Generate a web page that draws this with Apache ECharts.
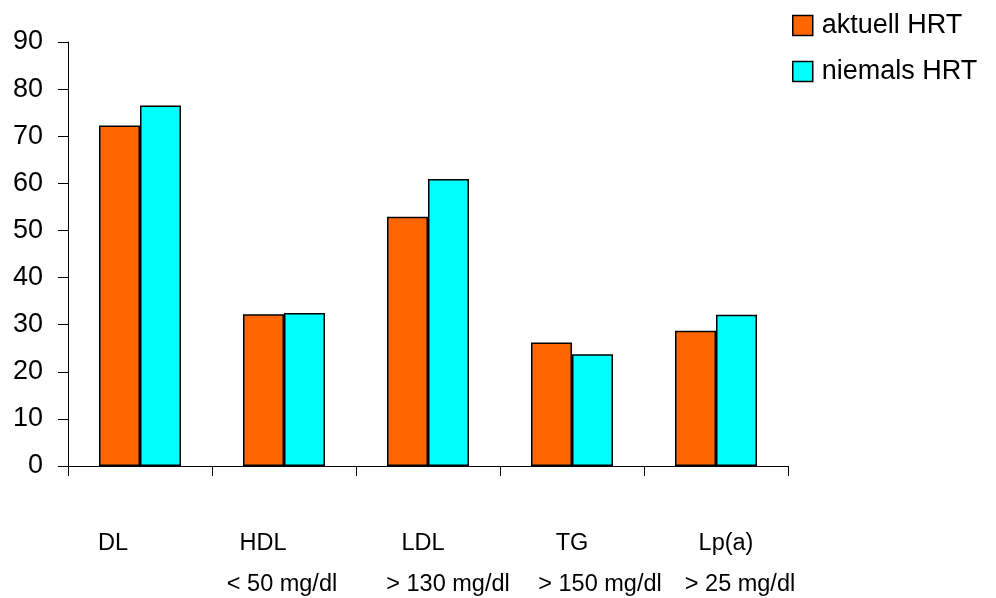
<!DOCTYPE html>
<html>
<head>
<meta charset="utf-8">
<script src="https://cdn.jsdelivr.net/npm/echarts@6/dist/echarts.min.js"></script>
<style>
html,body{margin:0;padding:0;background:#fff;}
#chart{width:996px;height:598px;}
</style>
</head>
<body>
<div id="chart"></div>
<script>
// ---- data ----
var categories = ['DL', 'HDL', 'LDL', 'TG', 'Lp(a)'];
var subLabels = ['', '< 50 mg/dl', '> 130 mg/dl', '> 150 mg/dl', '> 25 mg/dl'];
var seriesNames = ['aktuell HRT', 'niemals HRT'];
var aktuell = [72.3, 32.2, 52.9, 26.2, 28.7];
var niemals = [76.5, 32.5, 60.9, 23.7, 32.1];
var yTicks = [0, 10, 20, 30, 40, 50, 60, 70, 80, 90];

// ---- style (label horizontal offsets, px) ----
var topShift = [-27, -21, -5, 0, 10];
var subShift = [0, -2, 20, 28, 24];
var font = "'Liberation Sans', Arial, sans-serif";

function padFor(d) {
  return d >= 0 ? [0, 0, 0, 2 * d] : [0, -2 * d, 0, 0];
}
var rich = {};
for (var i = 0; i < categories.length; i++) {
  rich['t' + i] = {fontSize: 23.5, fontFamily: font, color: '#000', lineHeight: 41, padding: padFor(topShift[i])};
  rich['b' + i] = {fontSize: 23.5, fontFamily: font, color: '#000', lineHeight: 41, padding: padFor(subShift[i])};
}

var chart = echarts.init(document.getElementById('chart'), null, {renderer: 'canvas'});
chart.setOption({
  animation: false,
  backgroundColor: '#fff',
  textStyle: {fontFamily: font},
  legend: {
    orient: 'vertical',
    left: 787,
    top: 7,
    itemWidth: 20,
    itemHeight: 20,
    itemGap: 19,
    icon: 'rect',
    itemStyle: {borderColor: '#000', borderWidth: 1.5},
    textStyle: {fontSize: 27, fontFamily: font, color: '#000', padding: [0, 0, 0, 4]},
    data: seriesNames
  },
  grid: {left: 68, right: 208, top: 42, bottom: 132, containLabel: false},
  xAxis: {
    type: 'category',
    data: categories,
    axisLine: {show: true, lineStyle: {color: '#000', width: 1}},
    axisTick: {show: true, length: 10, lineStyle: {color: '#000'}},
    axisLabel: {
      margin: 57,
      interval: 0,
      formatter: function (v, idx) {
        var s = '{t' + idx + '|' + v + '}';
        if (subLabels[idx]) s += '\n{b' + idx + '|' + subLabels[idx] + '}';
        return s;
      },
      rich: rich
    },
    splitLine: {show: false}
  },
  yAxis: {
    type: 'value',
    min: yTicks[0],
    max: yTicks[yTicks.length - 1],
    interval: yTicks[1] - yTicks[0],
    axisLine: {show: true, lineStyle: {color: '#000', width: 1}},
    axisTick: {show: true, length: 10, lineStyle: {color: '#000'}},
    axisLabel: {margin: 25, fontSize: 27, fontFamily: font, color: '#000'},
    splitLine: {show: false}
  },
  series: [
    {
      name: seriesNames[0],
      type: 'bar',
      data: aktuell,
      barWidth: 41,
      barGap: '0%',
      itemStyle: {color: '#FF6600', borderColor: '#000', borderWidth: 1.5}
    },
    {
      name: seriesNames[1],
      type: 'bar',
      data: niemals,
      barWidth: 41,
      barGap: '0%',
      itemStyle: {color: '#00FFFF', borderColor: '#000', borderWidth: 1.5}
    }
  ]
});
</script>
</body>
</html>
